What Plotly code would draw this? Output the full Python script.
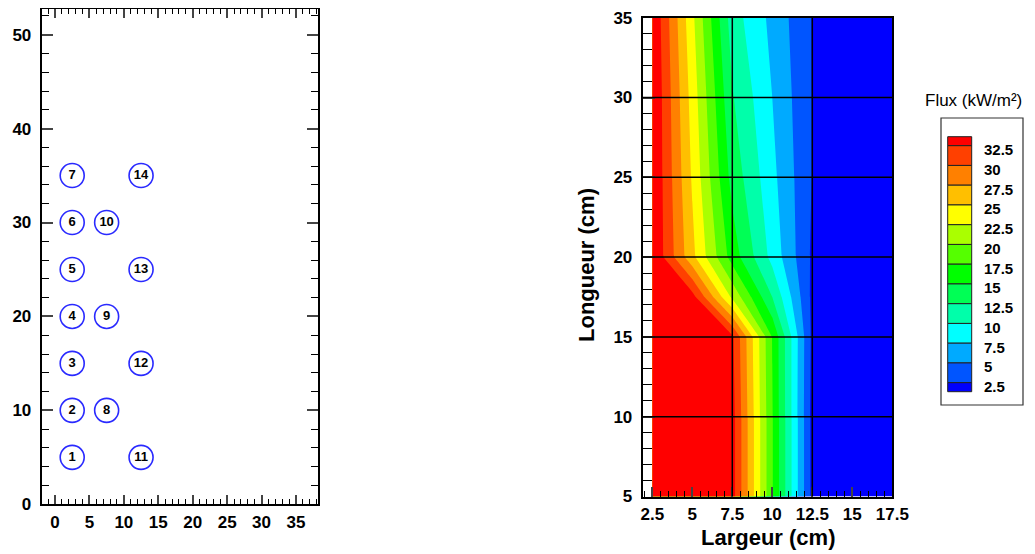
import plotly.graph_objects as go

# page body has an 8px margin: the figure is drawn 8px right/down of the window corner
OFF = 8
W, H = 1035 - OFF, 554 - OFF

# ---------------- data ----------------
# Left panel: thermocouple positions and ids
tc_id = [1, 2, 3, 4, 5, 6, 7, 8, 9, 10, 11, 12, 13, 14]
tc_x = [2.5, 2.5, 2.5, 2.5, 2.5, 2.5, 2.5, 7.5, 7.5, 7.5, 12.5, 12.5, 12.5, 12.5]
tc_y = [5, 10, 15, 20, 25, 30, 35, 10, 20, 30, 5, 15, 25, 35]

# Right panel: flux field (kW/m2)
grid_x = [2.5, 5, 7.5, 10, 12.5, 15, 17.5]
grid_y = [5, 10, 15, 17.5, 20, 25, 30, 35]
flux_y5 = [36.0, 36.0, 33.6, 17.7, 1.7, 0.0, 0.0]
flux_y10 = [36.0, 36.0, 33.6, 17.7, 1.7, 0.0, 0.0]
flux_y15 = [36.0, 36.0, 33.0, 17.4, 1.9, 0.0, 0.0]
flux_y17_5 = [35.5, 33.5, 22.0, 12.5, 1.9, 0.0, 0.0]
flux_y20 = [35.1, 25.7, 16.4, 9.2, 2.1, 0.0, 0.0]
flux_y25 = [35.2, 24.7, 14.1, 8.2, 2.4, 0.0, 0.0]
flux_y30 = [35.2, 24.0, 12.7, 7.5, 2.4, 0.0, 0.0]
flux_y35 = [35.0, 23.1, 11.2, 6.8, 2.4, 0.0, 0.0]
flux_z = [flux_y5, flux_y10, flux_y15, flux_y17_5, flux_y20, flux_y25, flux_y30, flux_y35]

levels = [2.5, 5, 7.5, 10, 12.5, 15, 17.5, 20, 22.5, 25, 27.5, 30, 32.5]
level_labels = ["2.5", "5", "7.5", "10", "12.5", "15", "17.5", "20", "22.5", "25", "27.5", "30", "32.5"]
band_colors = ["#0000FF", "#0055FF", "#00AAFF", "#00FFFF", "#00FFAA", "#00FF55", "#00FF00",
               "#55FF00", "#AAFF00", "#FFFF00", "#FFBF00", "#FF8000", "#FF4000", "#FF0000"]

left_xticks = [0, 5, 10, 15, 20, 25, 30, 35]
left_yticks = [0, 10, 20, 30, 40, 50]
right_xticks = [2.5, 5, 7.5, 10, 12.5, 15, 17.5]
right_xlabels = ["2.5", "5", "7.5", "10", "12.5", "15", "17.5"]
right_yticks = [5, 10, 15, 20, 25, 30, 35]
mesh_x = [7.5, 12.5]
mesh_y = [10, 15, 20, 25, 30]

FONT = "Liberation Sans, Arial, sans-serif"


def px(p):
    return (p - OFF) / W


def py(p):
    return 1 - (p - OFF) / H


fig = go.Figure()

# Left panel markers
fig.add_trace(go.Scatter(
    x=tc_x, y=tc_y, text=[str(i) for i in tc_id],
    mode="markers+text", texttemplate="<b>%{text}</b>",
    textposition="middle center",
    textfont=dict(family=FONT, size=13, color="black"),
    marker=dict(symbol="circle-open", size=24, color="#2a2aff", line=dict(width=1.6, color="#2a2aff")),
    xaxis="x", yaxis="y", showlegend=False, hoverinfo="skip", cliponaxis=False,
))

# Right panel contour
n = len(band_colors)
cscale = [[k / (n - 1), c] for k, c in enumerate(band_colors)]
fig.add_trace(go.Contour(
    x=grid_x, y=grid_y, z=flux_z,
    autocontour=False,
    contours=dict(start=levels[0], end=levels[-1], size=levels[1] - levels[0],
                  coloring="fill", showlines=False),
    colorscale=cscale, showscale=False, line=dict(width=0, smoothing=0),
    xaxis="x2", yaxis="y2", hoverinfo="skip",
))

tickfont = dict(family=FONT, size=17, color="black", weight="bold")

fig.update_layout(
    width=W, height=H,
    margin=dict(l=0, r=0, t=0, b=0),
    paper_bgcolor="white", plot_bgcolor="white",
    showlegend=False,
    xaxis=dict(domain=[px(41.7), px(318.3)], range=[-1.93, 38.24], anchor="y",
               tickvals=left_xticks, ticks="inside", ticklen=9, tickwidth=1.5,
               minor=dict(dtick=1, tick0=0, ticks="inside", ticklen=5, tickwidth=1.2, tickcolor="black"),
               showline=True, linewidth=2, linecolor="black", mirror="ticks",
               showgrid=False, zeroline=False, tickfont=tickfont, automargin=False,
               ticklabelstandoff=1),
    yaxis=dict(domain=[py(504.3), py(9.3)], range=[0, 52.7], anchor="x",
               tickvals=left_yticks, ticks="inside", ticklen=11, tickwidth=1.5,
               minor=dict(dtick=2, tick0=0, ticks="inside", ticklen=7, tickwidth=1.2, tickcolor="black"),
               showline=True, linewidth=2, linecolor="black", mirror="ticks",
               showgrid=False, zeroline=False, tickfont=tickfont, automargin=False,
               ticklabelstandoff=5),
    xaxis2=dict(domain=[px(642.7), px(892.3)], range=[1.9, 17.5], anchor="y2",
                tickvals=right_xticks, ticktext=right_xlabels, ticks="inside", ticklen=10, tickwidth=1.5,
                minor=dict(dtick=0.5, tick0=0, ticks="inside", ticklen=6, tickwidth=1.2, tickcolor="black"),
                showline=True, linewidth=2, linecolor="black", mirror=True,
                showgrid=False, zeroline=False, tickfont=tickfont, automargin=False,
                layer="above traces", ticklabelstandoff=1),
    yaxis2=dict(domain=[py(496.5), py(17.7)], range=[5, 35], anchor="x2",
                tickvals=right_yticks, ticks="inside", ticklen=12, tickwidth=1.5,
                minor=dict(dtick=1, tick0=0, ticks="inside", ticklen=9, tickwidth=1.2, tickcolor="black"),
                showline=True, linewidth=2, linecolor="black", mirror=True,
                showgrid=False, zeroline=False, tickfont=tickfont, automargin=False,
                layer="above traces", ticklabelstandoff=5),
)

shapes = []
# mesh lines over the contour
for gx in mesh_x:
    shapes.append(dict(type="line", xref="x2", yref="y2", x0=gx, x1=gx, y0=right_yticks[0], y1=right_yticks[-1],
                       line=dict(color="black", width=1.5), layer="above"))
for gy in mesh_y:
    shapes.append(dict(type="line", xref="x2", yref="y2", x0=1.9, x1=right_xticks[-1], y0=gy, y1=gy,
                       line=dict(color="black", width=1.5), layer="above"))

# legend box
shapes.append(dict(type="rect", xref="paper", yref="paper", x0=px(941), x1=px(1023), y0=py(405), y1=py(118),
                   line=dict(color="#333333", width=1.2), fillcolor="white", layer="below"))
top, bottom, half = 136.7, 391.7, 9.0
step = (bottom - top - 2 * half) / (len(levels) - 1)
edges = [top] + [top + half + i * step for i in range(len(levels))] + [bottom]
for i in range(n):
    c = band_colors[n - 1 - i]
    shapes.append(dict(type="rect", xref="paper", yref="paper", x0=px(947.7), x1=px(971.7),
                       y0=py(edges[i + 1]), y1=py(edges[i]), fillcolor=c,
                       line=dict(color="#222222", width=1), layer="above"))

annotations = []
for j, lab in enumerate(level_labels):
    yb = top + half + (len(levels) - 1 - j) * step
    annotations.append(dict(xref="paper", yref="paper", x=px(982), y=py(yb + 4), text=lab,
                            showarrow=False, xanchor="left", yanchor="middle",
                            font=dict(family=FONT, size=15, color="black", weight="bold")))
annotations.append(dict(xref="paper", yref="paper", x=px(973), y=py(100), text="Flux (kW/m²)",
                        showarrow=False, xanchor="center", yanchor="middle",
                        font=dict(family=FONT, size=17, color="black")))
annotations.append(dict(xref="paper", yref="paper", x=px(768), y=py(537), text="<b>Largeur (cm)</b>",
                        showarrow=False, xanchor="center", yanchor="middle",
                        font=dict(family=FONT, size=22, color="black")))
annotations.append(dict(xref="paper", yref="paper", x=px(586), y=py(265), text="<b>Longueur (cm)</b>",
                        showarrow=False, xanchor="center", yanchor="middle", textangle=-90,
                        font=dict(family=FONT, size=22, color="black")))

fig.update_layout(shapes=shapes, annotations=annotations)
fig.write_html("out.html")
